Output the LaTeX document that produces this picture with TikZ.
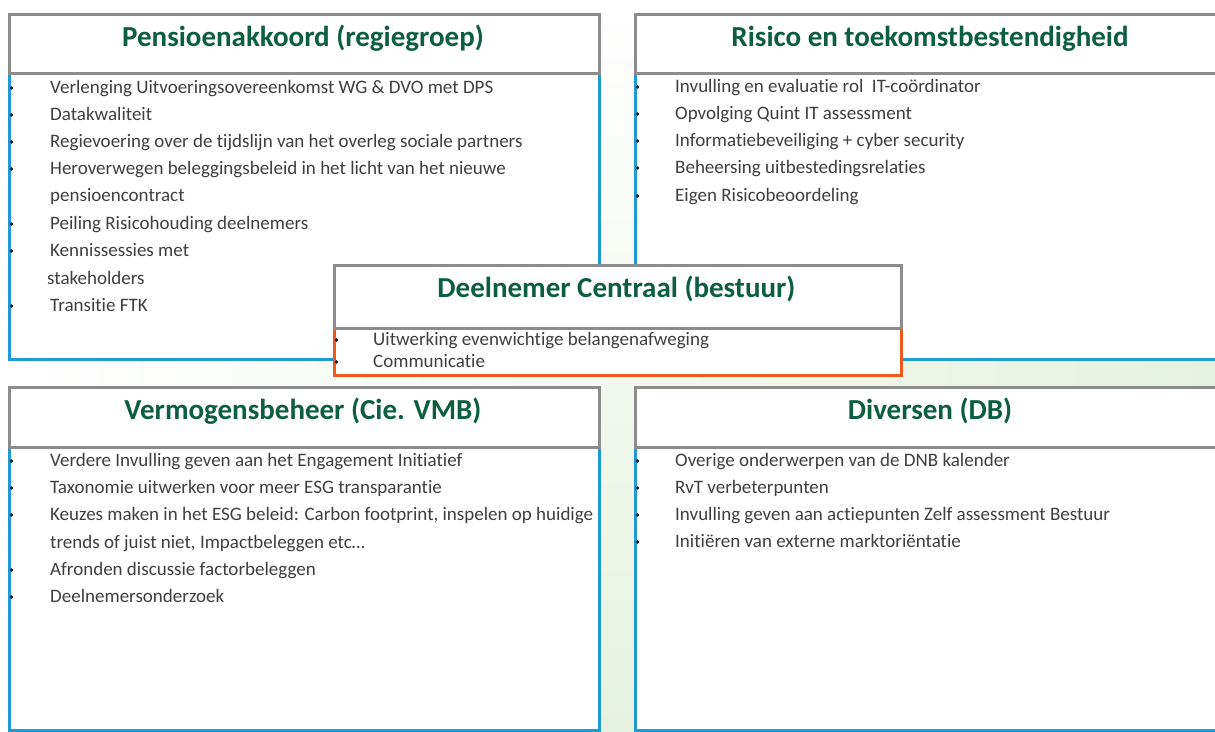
\documentclass[tikz,border=0pt]{standalone}
\usepackage{fontspec}
\setmainfont{Carlito}[Ligatures={NoCommon}]
\definecolor{graybd}{HTML}{8C8C8C}
\definecolor{bluebd}{HTML}{1E9BD7}
\definecolor{orangebd}{HTML}{EE5A1E}
\definecolor{titlegreen}{HTML}{0B5E3F}
\definecolor{bodytext}{HTML}{3F3F3F}
\definecolor{bggreen}{HTML}{E6F2E0}
\begin{document}
\begin{tikzpicture}[x=1pt,y=-1pt,
  titlebox/.style={draw=graybd, line width=2.6pt, fill=white, inner sep=0pt, anchor=north west},
  bluebox/.style={draw=bluebd, line width=2.8pt, fill=white, inner sep=0pt, anchor=north west},
  orangebox/.style={draw=orangebd, line width=2.8pt, fill=white, inner sep=0pt, anchor=north west},
  titletext/.style={text=titlegreen, font=\fontsize{29}{34}\selectfont\bfseries, inner sep=0pt, anchor=base},
  bodyline/.style={text=bodytext, font=\fontsize{19}{22}\selectfont, inner sep=0pt, anchor=base west},
  bul/.style={circle, fill=black!90, inner sep=0pt, minimum size=3.8pt}
]
\useasboundingbox (0,0) rectangle (1215,731);
% faint green background bands
\shade[top color=white, bottom color=bggreen] (598,0) rectangle (634,731);
\shade[left color=white, right color=bggreen] (0,358) rectangle (1215,386);

\newcommand\myitem[5]{%
  \node[bul] (#1b) at (#2,#4) {};
  \node[bodyline] (#1) at (#3,#4+5.5) {#5};}
\newcommand\myline[4]{%
  \node[bodyline] (#1) at (#2,#3+5.5) {#4};}

% ---------- top left ----------
\node[bluebox, minimum width=590pt, minimum height=286pt] (tlc) at (8,72) {};
\node[titlebox, minimum width=590pt, minimum height=59pt] (tlt) at (8,13) {};
\node[titletext] (tltx) at (303,46) {Pensioenakkoord (regiegroep)};
\myitem{a1}{11.5}{50}{88}{Verlenging Uitvoeringsovereenkomst WG \& DVO met DPS}
\myitem{a2}{11.5}{50}{115}{Datakwaliteit}
\myitem{a3}{11.5}{50}{142}{Regievoering over de tijdslijn van het overleg sociale partners}
\myitem{a4}{11.5}{50}{169}{Heroverwegen beleggingsbeleid in het licht van het nieuwe}
\myline{a5}{50}{196}{pensioencontract}
\myitem{a6}{11.5}{50}{224}{Peiling Risicohouding deelnemers}
\myitem{a7}{11.5}{50}{251}{Kennissessies met}
\myline{a8}{47}{279}{stakeholders}
\myitem{a9}{11.5}{50}{306}{Transitie FTK}

% ---------- top right ----------
\node[bluebox, minimum width=600pt, minimum height=286pt] (trc) at (634,72) {};
\node[titlebox, minimum width=600pt, minimum height=59pt] (trt) at (634,13) {};
\node[titletext] (trtx) at (930,46) {Risico en toekomstbestendigheid};
\myitem{r1}{637.5}{675}{87}{Invulling en evaluatie rol \ IT-coördinator}
\myitem{r2}{637.5}{675}{114}{Opvolging Quint IT assessment}
\myitem{r3}{637.5}{675}{141}{Informatiebeveiliging + cyber security}
\myitem{r4}{637.5}{675}{168}{Beheersing uitbestedingsrelaties}
\myitem{r5}{637.5}{675}{196}{Eigen Risicobeoordeling}

% ---------- bottom left ----------
\node[bluebox, minimum width=590pt, minimum height=283pt] (blc) at (8,446) {};
\node[titlebox, minimum width=590pt, minimum height=60pt] (blt) at (8,386) {};
\node[titletext] (bltx) at (303,419) {Vermogensbeheer (Cie. VMB)};
\myitem{v1}{11.5}{50}{461}{Verdere Invulling geven aan het Engagement Initiatief}
\myitem{v2}{11.5}{50}{488}{Taxonomie uitwerken voor meer ESG transparantie}
\myitem{v3}{11.5}{50}{515}{Keuzes maken in het ESG beleid: Carbon footprint, inspelen op huidige}
\myline{v4}{50}{543}{trends of juist niet, Impactbeleggen etc…}
\myitem{v5}{11.5}{50}{570}{Afronden discussie factorbeleggen}
\myitem{v6}{11.5}{50}{597}{Deelnemersonderzoek}

% ---------- bottom right ----------
\node[bluebox, minimum width=600pt, minimum height=283pt] (brc) at (634,446) {};
\node[titlebox, minimum width=600pt, minimum height=60pt] (brt) at (634,386) {};
\node[titletext] (brtx) at (930,419) {Diversen (DB)};
\myitem{d1}{637.5}{675}{461}{Overige onderwerpen van de DNB kalender}
\myitem{d2}{637.5}{675}{488}{RvT verbeterpunten}
\myitem{d3}{637.5}{675}{515}{Invulling geven aan actiepunten Zelf assessment Bestuur}
\myitem{d4}{637.5}{675}{542}{Initiëren van externe marktoriëntatie}

% ---------- center ----------
\node[orangebox, minimum width=567pt, minimum height=47pt] (cc) at (333,327) {};
\node[titlebox, minimum width=567pt, minimum height=63pt] (ct) at (333,264) {};
\node[titletext] (ctx) at (616.5,297) {Deelnemer Centraal (bestuur)};
\myitem{c1}{336.5}{373}{340}{Uitwerking evenwichtige belangenafweging}
\myitem{c2}{336.5}{373}{362}{Communicatie}
\end{tikzpicture}
\end{document}
